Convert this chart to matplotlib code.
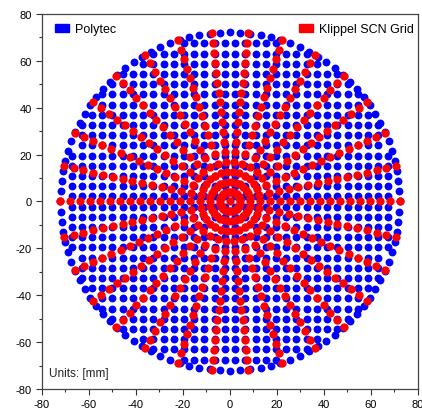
import numpy as np
import matplotlib.pyplot as plt
from matplotlib.patches import Patch

plt.rcParams['font.family'] = ['Liberation Sans', 'DejaVu Sans']
plt.rcParams['axes.unicode_minus'] = False

# Polytec scan: square grid clipped to the membrane circle, plus rim points
polytec_pitch = 4.35       # mm
polytec_radius = 73.0      # mm
polytec_rim_n = 104

# Klippel SCN grid: radial lines with equally spaced points
klippel_lines = 30
klippel_step = 4.25        # mm
klippel_points = 17        # points per line (plus centre)

xlim = [-80, 80]
ylim = [-80, 80]
ticks = [-80, -60, -40, -20, 0, 20, 40, 60, 80]

# build polytec points
k = np.arange(-17, 17) + 0.5
gx, gy = np.meshgrid(k * polytec_pitch, k * polytec_pitch)
gx, gy = gx.ravel(), gy.ravel()
inside = np.hypot(gx, gy) <= polytec_radius - 1.5
t = np.linspace(0, 2 * np.pi, polytec_rim_n, endpoint=False)
px = np.concatenate([gx[inside], (polytec_radius - 0.8) * np.cos(t)])
py = np.concatenate([gy[inside], (polytec_radius - 0.8) * np.sin(t)])

# build klippel points
ang = np.deg2rad(np.arange(klippel_lines) * 360 / klippel_lines)
rr = np.arange(1, klippel_points + 1) * klippel_step
A, R = np.meshgrid(ang, rr)
kx = np.concatenate([[0], (R * np.cos(A)).ravel()])
ky = np.concatenate([[0], (R * np.sin(A)).ravel()])

fig = plt.figure(figsize=(4.22, 4.10), dpi=100)
ax = fig.add_axes([0.0995, 0.0488, 0.891, 0.9146])
ax.scatter(px, py, s=32, color='#0000ff', linewidths=0, zorder=2)
ax.scatter(kx, ky, s=36, color='#ff0000', linewidths=0, zorder=3)

ax.set_xlim(xlim)
ax.set_ylim(ylim)
ax.set_xticks(ticks)
ax.set_yticks(ticks)
ax.set_xticks(np.arange(-70, 80, 20), minor=True)
ax.set_yticks(np.arange(-70, 80, 20), minor=True)
ax.tick_params(which='major', direction='out', length=4, width=0.8, labelsize=8, colors='#333333', labelcolor='black')
ax.tick_params(which='minor', direction='out', length=2.5, width=0.8, colors='#333333')
for s in ax.spines.values():
    s.set_color('#444444')
    s.set_linewidth(0.9)

leg_kw = dict(frameon=False, fontsize=9, handlelength=1.1, handleheight=0.6,
              handletextpad=0.5, borderaxespad=0, borderpad=0)
l1 = ax.legend(handles=[Patch(color='#0000ff', label='Polytec')], loc='upper left',
               bbox_to_anchor=(0.035, 0.975), **leg_kw)
ax.add_artist(l1)
ax.legend(handles=[Patch(color='#ff0000', label='Klippel SCN Grid')], loc='upper right',
          bbox_to_anchor=(0.99, 0.975), **leg_kw)

ax.text(-77, -73, 'Units: [mm]', fontsize=8.5, color='#222222', va='center')

fig.savefig('out.png', dpi=100)
